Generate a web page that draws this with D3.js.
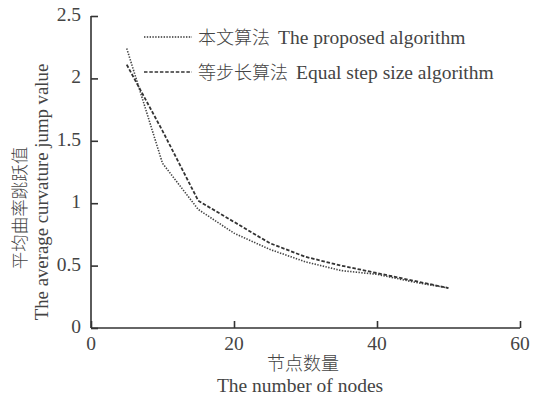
<!DOCTYPE html>
<html>
<head>
<meta charset="utf-8">
<script src="https://cdn.jsdelivr.net/npm/d3@7"></script>
<style>
  body { margin: 0; background: #fff; }
  text { font-family: "Liberation Serif", "Times New Roman", serif; fill: #444; }
  .cjk { font-family: "Noto Sans CJK SC", sans-serif; font-weight: 300; }
</style>
</head>
<body>
<div id="chart"></div>
<script>
const width = 557;
const height = 398;

// data
const nodes = [5, 10, 15, 20, 25, 30, 35, 40, 45, 50];
const proposed = [2.24, 1.32, 0.95, 0.76, 0.63, 0.53, 0.46, 0.43, 0.37, 0.32];
const equalStep = [2.11, 1.58, 1.02, 0.85, 0.68, 0.57, 0.50, 0.44, 0.38, 0.32];
const xTicks = [0, 20, 40, 60];
const yTicks = [0, 0.5, 1, 1.5, 2, 2.5];
const yTickLabels = ["0", "0.5", "1", "1.5", "2", "2.5"];

const margin = {top: 16, right: 37, bottom: 70, left: 91};

const svg = d3.select("#chart")
    .append("svg")
    .attr("width", width)
    .attr("height", height);

const x = d3.scaleLinear()
    .domain([0, 60])
    .range([margin.left, width - margin.right]);

const y = d3.scaleLinear()
    .domain([0, 2.5])
    .range([height - margin.bottom, margin.top]);

// axes, ticks pointing inward
const xAxis = svg.append("g")
    .attr("transform", "translate(0," + y(0) + ")")
    .call(d3.axisTop(x).tickValues(xTicks).tickSize(7).tickFormat(""));
xAxis.select(".domain").attr("d", "M" + x(0) + ",0H" + x(60));

const yAxis = svg.append("g")
    .attr("transform", "translate(" + x(0) + ",0)")
    .call(d3.axisRight(y).tickValues(yTicks).tickSize(7).tickFormat(""));
yAxis.select(".domain").attr("d", "M0," + y(0) + "V" + y(2.5));

svg.selectAll(".domain, .tick line")
    .attr("stroke", "#333")
    .attr("stroke-width", 1.6);

// tick labels
svg.append("g").selectAll("text")
    .data(xTicks)
    .join("text")
    .attr("x", d => x(d))
    .attr("y", y(0) + 22)
    .attr("text-anchor", "middle")
    .style("font-size", "19.5px")
    .text(d => d);

svg.append("g").selectAll("text")
    .data(yTicks)
    .join("text")
    .attr("x", x(0) - 10)
    .attr("y", d => y(d) + 5)
    .attr("text-anchor", "end")
    .style("font-size", "19.5px")
    .text((d, i) => yTickLabels[i]);

// lines
const line = d3.line()
    .x((d, i) => x(nodes[i]))
    .y(d => y(d));

svg.append("path")
    .datum(proposed)
    .attr("d", line)
    .attr("fill", "none")
    .attr("stroke", "#444")
    .attr("stroke-width", 1.6)
    .attr("stroke-dasharray", "1.4,1.4");

svg.append("path")
    .datum(equalStep)
    .attr("d", line)
    .attr("fill", "none")
    .attr("stroke", "#333")
    .attr("stroke-width", 1.8)
    .attr("stroke-dasharray", "3.5,1.8");

// legend
const legend = [
    {cn: "本文算法", en: "The proposed algorithm", dash: "1.4,1.4", y: 37},
    {cn: "等步长算法", en: "Equal step size algorithm", dash: "3.5,1.8", y: 72}
];

legend.forEach(l => {
    svg.append("line")
        .attr("x1", 144).attr("x2", 192)
        .attr("y1", l.y).attr("y2", l.y)
        .attr("stroke", "#333")
        .attr("stroke-width", 1.6)
        .attr("stroke-dasharray", l.dash);
    svg.append("text")
        .attr("class", "cjk")
        .attr("x", 198)
        .attr("y", l.y + 7)
        .style("font-size", "18px")
        .text(l.cn);
    svg.append("text")
        .attr("x", 198 + l.cn.length * 18 + 8)
        .attr("y", l.y + 7)
        .style("font-size", "19.5px")
        .text(l.en);
});

// axis titles
svg.append("text")
    .attr("class", "cjk")
    .attr("x", 303)
    .attr("y", 370)
    .attr("text-anchor", "middle")
    .style("font-size", "18px")
    .text("节点数量");

svg.append("text")
    .attr("x", 300)
    .attr("y", 392)
    .attr("text-anchor", "middle")
    .style("font-size", "19.5px")
    .text("The number of nodes");

svg.append("text")
    .attr("class", "cjk")
    .attr("transform", "translate(26,208) rotate(-90)")
    .attr("text-anchor", "middle")
    .style("font-size", "17.5px")
    .text("平均曲率跳跃值");

svg.append("text")
    .attr("transform", "translate(48,192) rotate(-90)")
    .attr("text-anchor", "middle")
    .style("font-size", "18.8px")
    .text("The average curvature jump value");
</script>
</body>
</html>
